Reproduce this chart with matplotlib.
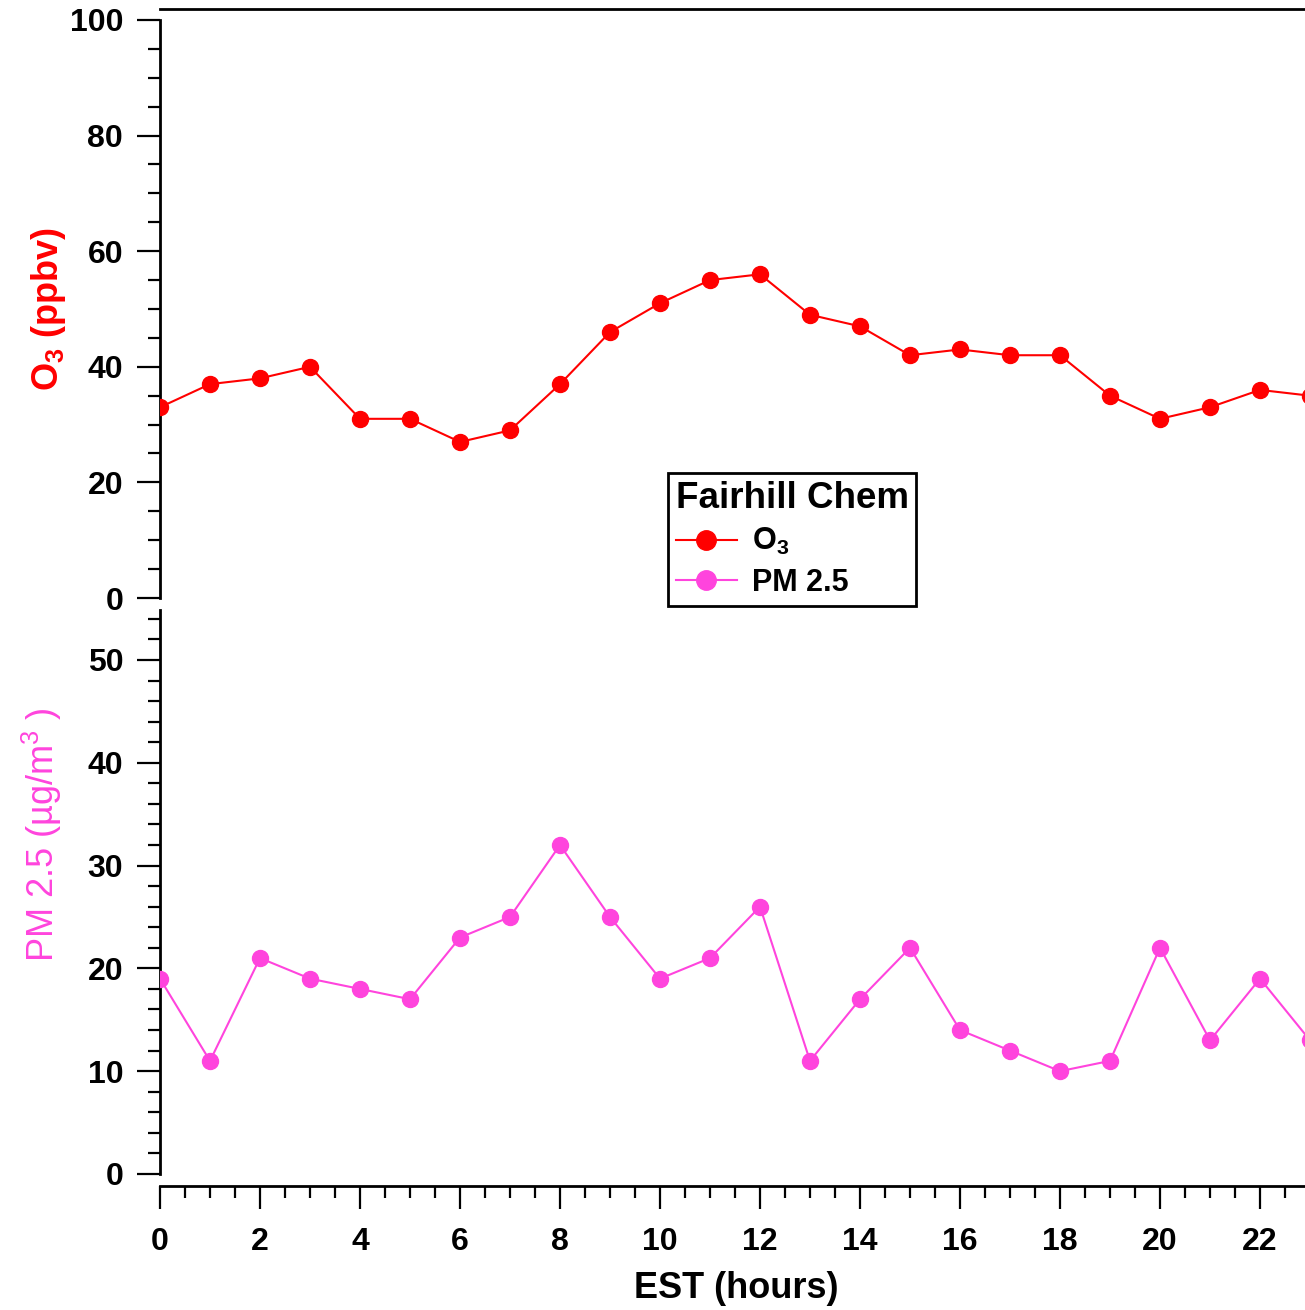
import matplotlib
matplotlib.use('Agg')
import matplotlib.pyplot as plt
from matplotlib.ticker import MultipleLocator
from matplotlib.lines import Line2D

plt.rcParams['font.family'] = ['Liberation Sans', 'DejaVu Sans']
plt.rcParams['mathtext.default'] = 'regular'

# hourly means, EST
hours = list(range(24))
o3 = [33, 37, 38, 40, 31, 31, 27, 29, 37, 46, 51, 55,
      56, 49, 47, 42, 43, 42, 42, 35, 31, 33, 36, 35]
pm25 = [19, 11, 21, 19, 18, 17, 23, 25, 32, 25, 19, 21,
        26, 11, 17, 22, 14, 12, 10, 11, 22, 13, 19, 13]

red = '#ff0000'
pink = '#ff44dd'

W, H = 1305, 1310
fig = plt.figure(figsize=(W / 100, H / 100), dpi=100)

left = 160 / W
width = 1 - left
ax1 = fig.add_axes([left, 1 - 598 / H, width, (598 - 9) / H])
ax2 = fig.add_axes([left, 1 - 1186 / H, width, (1186 - 610) / H])

ax1.plot(hours, o3, color=red, lw=1.5, marker='o', ms=11.5, zorder=3)
ax2.plot(hours, pm25, color=pink, lw=1.5, marker='o', ms=11.5, zorder=3)

for ax in (ax1, ax2):
    ax.set_xlim(0, 22.9)
    ax.spines['right'].set_visible(False)
    for s in ax.spines.values():
        s.set_linewidth(2)
    ax.tick_params(which='major', direction='out', length=16.5, width=1.6,
                   labelsize=23, pad=10)
    ax.tick_params(which='minor', direction='out', length=8.5, width=1.6)

# top panel
ax1.set_ylim(0, 101.9)
ax1.spines['left'].set_bounds(0, 100)
ax1.spines['bottom'].set_visible(False)
ax1.yaxis.set_minor_locator(MultipleLocator(5))
ax1.tick_params(axis='x', which='both', bottom=False, labelbottom=False)
ax1.set_yticks(range(0, 101, 20))
ax1.set_yticklabels([str(v) for v in range(0, 101, 20)], fontweight='bold')

# bottom panel
ymax = 54.86
ax2.set_ylim(-1.17, ymax)
ax2.spines['left'].set_bounds(0, ymax)
ax2.spines['top'].set_visible(False)
ax2.set_yticks(range(0, 51, 10))
ax2.set_yticklabels([str(v) for v in range(0, 51, 10)], fontweight='bold')
ax2.yaxis.set_minor_locator(MultipleLocator(2))
ax2.set_xticks(range(0, 23, 2))
ax2.set_xticklabels([str(v) for v in range(0, 23, 2)], fontweight='bold')
ax2.xaxis.set_minor_locator(MultipleLocator(0.5))
ax2.tick_params(axis='x', which='major', pad=13)

fig.text(49 / W, 1 - 309 / H, 'O$_3$ (ppbv)', color=red, fontsize=26,
         fontweight='bold', rotation=90, ha='center', va='center')
fig.text(42 / W, 1 - 835 / H, 'PM 2.5 (\u00b5g/m$^3$ )', color=pink,
         fontsize=26, rotation=90, ha='center', va='center')
fig.text(736 / W, 1 - 1288 / H, 'EST (hours)', fontsize=26,
         fontweight='bold', ha='center', va='center')

handles = [Line2D([], [], color=red, lw=1.5, marker='o', ms=14),
           Line2D([], [], color=pink, lw=1.5, marker='o', ms=14)]
leg = fig.legend(handles, ['O$_3$', 'PM 2.5'], title='Fairhill Chem',
                 loc='upper left', bbox_to_anchor=(668 / W, 1 - 473 / H),
                 borderaxespad=0, fancybox=False, framealpha=1,
                 edgecolor='black', prop={'size': 22, 'weight': 'bold'},
                 title_fontproperties={'size': 26.5, 'weight': 'bold'},
                 handlelength=2.0, handletextpad=0.5, labelspacing=0.35,
                 borderpad=0.25)
leg._legend_box.align = 'left'
leg.get_frame().set_linewidth(2)

fig.savefig('out.png', dpi=100)
